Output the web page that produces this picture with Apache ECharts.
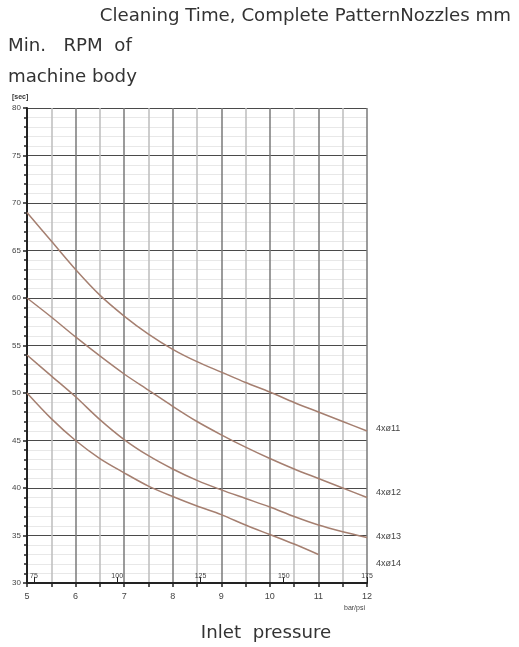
<!DOCTYPE html>
<html>
<head>
<meta charset="utf-8">
<script src="https://cdn.jsdelivr.net/npm/echarts@6/dist/echarts.min.js"></script>
<style>html,body{margin:0;padding:0;background:#fff}#c{width:519px;height:647px}</style>
</head>
<body>
<div id="c"></div>
<script>
const pressure = [5, 5.5, 6, 6.5, 7, 7.5, 8, 8.5, 9, 9.5, 10, 10.5, 11, 11.5, 12];
const nozzle11 = [69, 66.0, 63.0, 60.3, 58.1, 56.2, 54.6, 53.3, 52.2, 51.1, 50.1, 49.0, 48.0, 47.0, 46.0];
const nozzle12 = [60, 58.0, 55.9, 53.9, 52.0, 50.3, 48.6, 47.0, 45.6, 44.3, 43.1, 42.0, 41.0, 40.0, 39.0];
const nozzle13 = [54, 51.8, 49.6, 47.2, 45.1, 43.4, 42.0, 40.8, 39.8, 38.9, 38.0, 37.0, 36.1, 35.4, 34.8];
const nozzle14 = [50, 47.3, 45.0, 43.1, 41.6, 40.2, 39.1, 38.1, 37.2, 36.1, 35.1, 34.1, 33.0];
const seriesNames = ['4xø11', '4xø12', '4xø13', '4xø14'];
const psiTicks = [75, 100, 125, 150, 175];

const FONT = '"Liberation Sans", Arial, sans-serif';
const BIG = '"DejaVu Sans", sans-serif';
const lineColor = '#a57f70';
const chart = echarts.init(document.getElementById('c'));

function pts(vals) { return vals.map((v, i) => [pressure[i], v]); }
const allSeries = [nozzle11, nozzle12, nozzle13, nozzle14];

chart.setOption({
  animation: false,
  grid: { left: 27, right: 152, top: 108, bottom: 64 },
  xAxis: [{
    type: 'value', min: 5, max: 12, interval: 1,
    axisLine: { show: true, lineStyle: { color: '#222', width: 2 } },
    axisTick: { show: true, length: 4, lineStyle: { color: '#222', width: 1.5 } },
    minorTick: { show: true, splitNumber: 2, length: 4, lineStyle: { color: '#222', width: 1.5 } },
    axisLabel: { fontFamily: FONT, fontSize: 9, color: '#444', margin: 9 },
    splitLine: { show: true, lineStyle: { color: '#7a7a7a', width: 1.5 } },
    minorSplitLine: { show: true, lineStyle: { color: '#bdbdbd', width: 1.5 } }
  }, {
    type: 'value', min: 175 * 5 / 12, max: 175, position: 'bottom',
    axisLine: { show: false },
    axisTick: { show: true, inside: true, length: 6, customValues: psiTicks, lineStyle: { color: '#222', width: 1 } },
    axisLabel: { show: true, inside: true, customValues: psiTicks, fontFamily: FONT, fontSize: 7, color: '#444', margin: 3 },
    splitLine: { show: false }
  }],
  yAxis: {
    type: 'value', min: 30, max: 80, interval: 5,
    axisLine: { show: true, lineStyle: { color: '#222', width: 2 } },
    axisTick: { show: true, length: 4, lineStyle: { color: '#222', width: 1.5 } },
    minorTick: { show: true, splitNumber: 5, length: 3, lineStyle: { color: '#222', width: 1.5 } },
    axisLabel: { fontFamily: FONT, fontSize: 8, color: '#444', margin: 6 },
    splitLine: { show: true, lineStyle: { color: '#4a4a4a', width: 1.2 } },
    minorSplitLine: { show: true, lineStyle: { color: '#e8e8e8', width: 1 } }
  },
  series: allSeries.map((vals, i) => ({
    name: seriesNames[i], type: 'line', data: pts(vals), smooth: 0.3,
    showSymbol: false, xAxisIndex: 0,
    lineStyle: { color: lineColor, width: 1.5 }
  })).concat([{
    type: 'line', data: [], xAxisIndex: 1
  }]),
  graphic: [
    { type: 'text', x: 511, y: 16, style: { text: 'Cleaning Time, Complete PatternNozzles mm', font: '18.2px ' + BIG, fill: '#333', textAlign: 'right', textVerticalAlign: 'middle' } },
    { type: 'text', x: 8, y: 46, style: { text: 'Min.   RPM  of', font: '18.2px ' + BIG, fill: '#333', textAlign: 'left', textVerticalAlign: 'middle' } },
    { type: 'text', x: 8, y: 77, style: { text: 'machine body', font: '18.2px ' + BIG, fill: '#333', textAlign: 'left', textVerticalAlign: 'middle' } },
    { type: 'text', x: 12, y: 97, style: { text: '[sec]', font: 'bold 7px ' + FONT, fill: '#333', textAlign: 'left', textVerticalAlign: 'middle' } },
    { type: 'text', x: 376, y: 429, style: { text: seriesNames[0], font: '9px ' + FONT, fill: '#444', textVerticalAlign: 'middle' } },
    { type: 'text', x: 376, y: 493, style: { text: seriesNames[1], font: '9px ' + FONT, fill: '#444', textVerticalAlign: 'middle' } },
    { type: 'text', x: 376, y: 537, style: { text: seriesNames[2], font: '9px ' + FONT, fill: '#444', textVerticalAlign: 'middle' } },
    { type: 'text', x: 376, y: 564, style: { text: seriesNames[3], font: '9px ' + FONT, fill: '#444', textVerticalAlign: 'middle' } },
    { type: 'text', x: 344, y: 608, style: { text: 'bar/psi', font: '7px ' + FONT, fill: '#444', textVerticalAlign: 'middle' } },
    { type: 'text', x: 266, y: 633, style: { text: 'Inlet  pressure', font: '18.2px ' + BIG, fill: '#333', textAlign: 'center', textVerticalAlign: 'middle' } }
  ]
});
</script>
</body>
</html>
